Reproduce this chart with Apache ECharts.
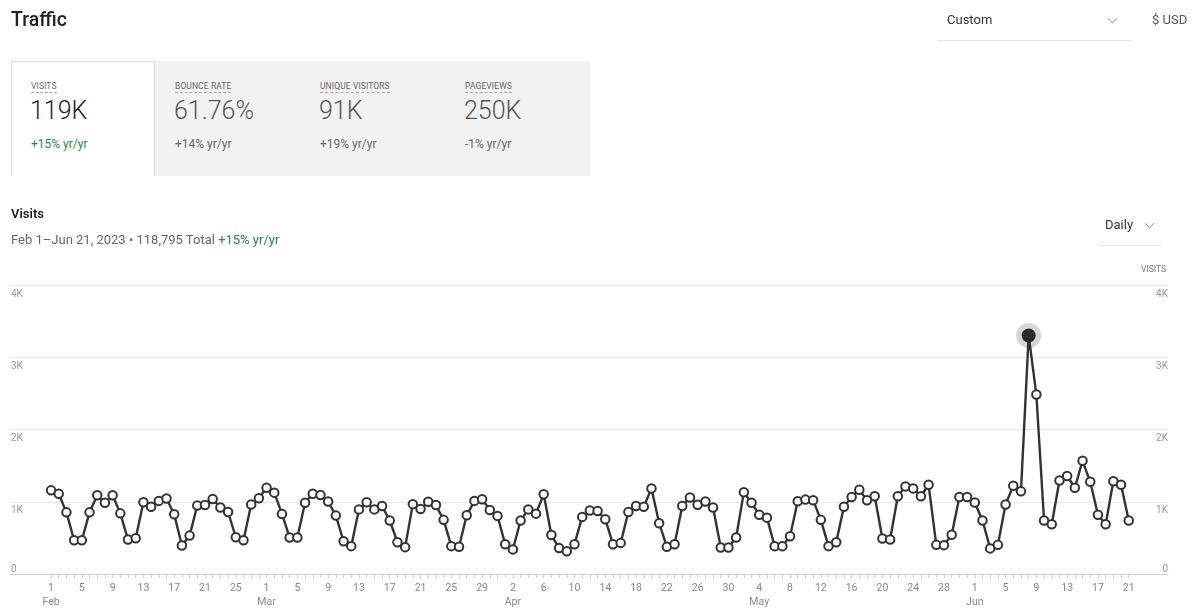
<!DOCTYPE html>
<html>
<head>
<meta charset="utf-8">
<script src="https://cdn.jsdelivr.net/npm/echarts@6/dist/echarts.min.js"></script>
<style>
  html, body { margin:0; padding:0; width:1200px; height:609px; background:#fff; overflow:hidden;
    font-family: Roboto, "Noto Sans", Arial, sans-serif; }
  #chart { position:absolute; left:0; top:0; width:1200px; height:609px; }
  .ov { position:absolute; white-space:nowrap; }
  .title { left:11px; top:8px; font-size:19.5px; font-weight:500; color:#222; }
  .dd { color:#333; font-size:13px; }
  .chev { position:absolute; width:6px; height:6px; border-right:1px solid #aaa; border-bottom:1px solid #aaa; transform:rotate(45deg); }
  .uline { position:absolute; height:1px; background:#e3e3e3; }
  .cards { position:absolute; left:11px; top:61px; width:579px; height:115px; background:#f2f2f2; }
  .card1 { position:absolute; left:11px; top:61px; width:144px; height:115px; background:#fff;
    border-left:1px solid #ddd; border-top:1px solid #ddd; border-right:1px solid #ddd; box-sizing:border-box; }
  .lbl { font-size:8.5px; color:#666; letter-spacing:0.1px; border-bottom:1px dashed #aaa; padding-bottom:1px; }
  .val { font-size:25px; font-weight:300; color:#555; }
  .chg { font-size:12px; color:#666; }
  .green { color:#1f8a45; }
</style>
</head>
<body>
<div id="chart"></div>

<div class="ov title">Traffic</div>
<div class="ov dd" style="left:947px; top:12px;">Custom</div>
<div class="chev" style="left:1109px; top:15px;"></div>
<div class="uline" style="left:937px; top:40px; width:194px;"></div>
<div class="ov dd" style="left:1152px; top:12px; color:#555;">$ USD</div>

<div class="cards"></div>
<div class="card1"></div>
<div class="ov lbl" style="left:31px; top:81px;">VISITS</div>
<div class="ov val" style="left:30px; top:96px; color:#222;">119K</div>
<div class="ov chg green" style="left:31px; top:137px;">+15% yr/yr</div>

<div class="ov lbl" style="left:175px; top:81px;">BOUNCE RATE</div>
<div class="ov val" style="left:174px; top:96px;">61.76%</div>
<div class="ov chg" style="left:175px; top:137px;">+14% yr/yr</div>

<div class="ov lbl" style="left:320px; top:81px;">UNIQUE VISITORS</div>
<div class="ov val" style="left:319px; top:96px;">91K</div>
<div class="ov chg" style="left:320px; top:137px;">+19% yr/yr</div>

<div class="ov lbl" style="left:465px; top:81px;">PAGEVIEWS</div>
<div class="ov val" style="left:464px; top:96px;">250K</div>
<div class="ov chg" style="left:465px; top:137px;">-1% yr/yr</div>

<div class="ov" style="left:11px; top:206px; font-size:13px; font-weight:600; color:#222;">Visits</div>
<div class="ov" style="left:11px; top:232px; font-size:13px; color:#666;">Feb 1–Jun 21, 2023 • 118,795 Total <span class="green">+15% yr/yr</span></div>
<div class="ov dd" style="left:1105px; top:217px;">Daily</div>
<div class="chev" style="left:1146px; top:220px;"></div>
<div class="uline" style="left:1100px; top:245px; width:62px;"></div>
<div class="ov" style="left:1141px; top:264px; font-size:8.5px; color:#777;">VISITS</div>

<script>
// ---- data ----
const startDate = [2023, 1, 1]; // Feb 1, 2023
const monthNames = ['Jan','Feb','Mar','Apr','May','Jun','Jul','Aug','Sep','Oct','Nov','Dec'];
const visits = [
  1159,1113,854,468,468,854,1091,986,1091,840,477,495,995,931,1013,1045,827,395,532,949,955,1040,922,859,509,468,963,1050,
  1195,1127,832,505,505,986,1113,1095,1004,809,454,386,895,995,895,941,741,441,372,968,900,1000,955,750,386,377,813,1013,1036,886,805,
  413,341,741,895,836,1105,540,359,314,413,791,881,873,759,413,431,859,941,931,1186,704,377,413,941,1059,959,1004,922,368,368,
  505,1132,986,822,781,386,386,522,1009,1031,1023,750,386,441,931,1068,1168,1023,1077,491,477,1077,1214,1186,1077,1236,404,400,545,1068,1068,
  990,741,355,404,963,1222,1145,3305,2486,741,690,1295,1358,1195,1568,1277,822,690,1286,1236,741
];
const yTicks = [0, 1000, 2000, 3000, 4000];
const yTickLabels = ['0', '1K', '2K', '3K', '4K'];

const dates = visits.map((v, i) => new Date(startDate[0], startDate[1], startDate[2] + i));
const tickIdx = visits.map((v, i) => i);
const labelIdx = tickIdx.filter(i => i % 4 === 0);
const peakIdx = visits.indexOf(Math.max(...visits));

const chart = echarts.init(document.getElementById('chart'));
function yAxisDef(position, zeroOnly) {
  return {
    type: 'value', min: 0, max: 4000, interval: 1000, position: position,
    axisLine: { show: false }, axisTick: { show: false },
    splitLine: { show: position === 'left' && !zeroOnly, lineStyle: { color: '#e8e8e8' } },
    axisLabel: {
      inside: true, margin: 0,
      verticalAlign: zeroOnly ? 'bottom' : 'top',
      padding: zeroOnly ? [0, 0, 0, 0] : [4, 0, 0, 0],
      color: '#999', fontSize: 10, fontFamily: 'Roboto',
      formatter: v => {
        const lab = yTickLabels[yTicks.indexOf(v)];
        return zeroOnly ? (v === 0 ? lab : '') : (v === 0 ? '' : lab);
      }
    }
  };
}
chart.setOption({
  animation: false,
  grid: { left: 11, right: 32, top: 285.3, bottom: 30.7 },
  xAxis: {
    type: 'value', min: -5.2, max: 145.1,
    splitLine: { show: false },
    axisLine: { show: true, lineStyle: { color: '#d0d0d0', width: 1 } },
    axisTick: { show: true, customValues: tickIdx, length: 4, lineStyle: { color: '#ccc' } },
    axisLabel: {
      customValues: labelIdx, margin: 7, color: '#888', fontSize: 10.5, fontFamily: 'Roboto', lineHeight: 14,
      formatter: v => {
        const d = dates[Math.round(v)];
        if (!d) return '';
        return d.getDate() <= 4 ? d.getDate() + '\n' + monthNames[d.getMonth()] : String(d.getDate());
      }
    }
  },
  yAxis: [
    yAxisDef('left', false),
    yAxisDef('right', false),
    yAxisDef('left', true),
    yAxisDef('right', true)
  ],
  series: [
    { type: 'scatter', data: [[peakIdx, visits[peakIdx]]], symbolSize: 25, z: 1, silent: true,
      itemStyle: { color: 'rgba(0,0,0,0.2)' } },
    { type: 'line', z: 2,
      data: visits.map((v, i) => i === peakIdx
        ? { value: [i, v], symbolSize: 12, itemStyle: { color: '#2b2b2b', borderColor: '#2b2b2b' } }
        : [i, v]),
      symbol: 'circle', symbolSize: 8.5, showAllSymbol: true,
      lineStyle: { color: '#333', width: 2.4 },
      itemStyle: { color: '#fff', borderColor: '#333', borderWidth: 2 }
    }
  ]
});
</script>
</body>
</html>
